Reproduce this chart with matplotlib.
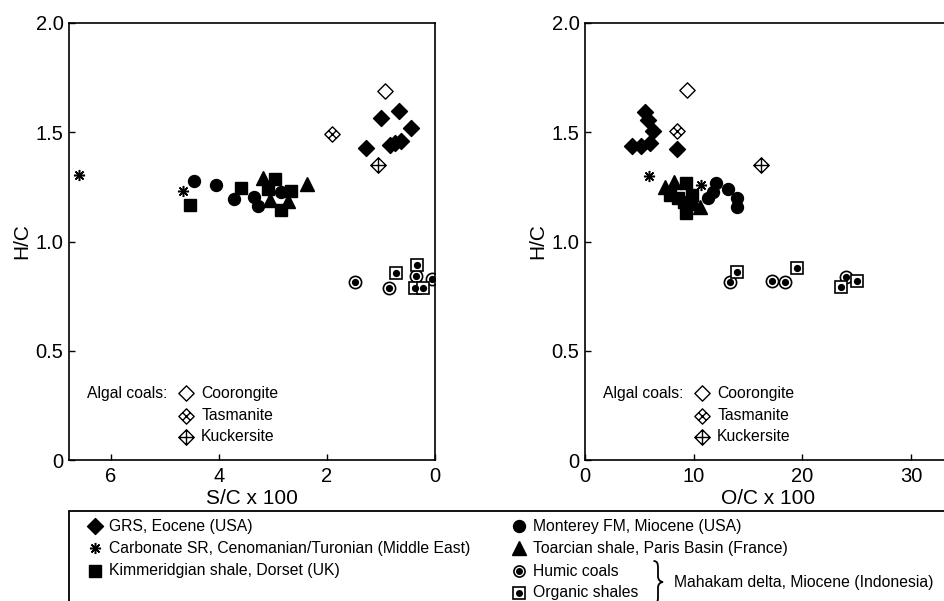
import numpy as np
import matplotlib
matplotlib.use("Agg")
import matplotlib.pyplot as plt
from matplotlib.path import Path
from matplotlib.patches import PathPatch, Rectangle
from matplotlib.lines import Line2D

plt.rcParams['font.family'] = ['Liberation Sans', 'DejaVu Sans']

# ---- data ----
# left panel: S/C x 100 vs H/C
grs_sc = [1.00, 0.67, 1.28, 0.83, 0.63, 0.45, 0.74]
grs_hc_l = [1.567, 1.599, 1.427, 1.442, 1.461, 1.518, 1.45]
carb_sc = [6.59, 4.66]
carb_hc_l = [1.306, 1.231]
kimm_sc = [4.54, 3.59, 2.97, 3.10, 2.86, 2.67]
kimm_hc_l = [1.168, 1.243, 1.285, 1.242, 1.144, 1.233]
mont_sc = [4.46, 4.06, 3.73, 3.35, 3.28, 2.86]
mont_hc_l = [1.275, 1.26, 1.193, 1.205, 1.162, 1.227]
toar_sc = [3.18, 3.05, 2.73, 2.38]
toar_hc_l = [1.289, 1.19, 1.185, 1.265]
humic_sc = [1.48, 0.85, 0.36, 0.06]
humic_hc_l = [0.816, 0.786, 0.844, 0.827]
shale_sc = [0.73, 0.33, 0.37, 0.22]
shale_hc_l = [0.857, 0.892, 0.789, 0.789]
algal_sc = [0.93, 1.91, 1.05]          # Coorongite, Tasmanite, Kuckersite
algal_hc_l = [1.689, 1.49, 1.349]

# right panel: O/C x 100 vs H/C
grs_oc = [4.29, 5.12, 5.98, 5.52, 5.83, 6.22, 8.49]
grs_hc_r = [1.439, 1.439, 1.449, 1.594, 1.556, 1.506, 1.423]
carb_oc = [5.89, 10.64]
carb_hc_r = [1.30, 1.257]
kimm_oc = [9.26, 7.8, 9.8, 9.1, 9.26, 8.6]
kimm_hc_r = [1.27, 1.215, 1.215, 1.18, 1.13, 1.20]
mont_oc = [11.35, 11.74, 12.05, 13.12, 14.01, 14.01]
mont_hc_r = [1.198, 1.228, 1.266, 1.24, 1.198, 1.159]
toar_oc = [7.36, 8.19, 10.0, 10.6]
toar_hc_r = [1.251, 1.274, 1.175, 1.16]
humic_oc = [13.34, 17.17, 18.43, 23.98]
humic_hc_r = [0.813, 0.821, 0.813, 0.836]
shale_oc = [13.95, 19.53, 23.52, 25.0]
shale_hc_r = [0.859, 0.88, 0.79, 0.819]
algal_oc = [9.41, 8.49, 16.16]
algal_hc_r = [1.693, 1.507, 1.35]

algal_names = ['Coorongite', 'Tasmanite', 'Kuckersite']
legend_left = ['GRS, Eocene (USA)',
               'Carbonate SR, Cenomanian/Turonian (Middle East)',
               'Kimmeridgian shale, Dorset (UK)']
legend_right = ['Monterey FM, Miocene (USA)',
                'Toarcian shale, Paris Basin (France)',
                'Humic coals', 'Organic shales']

# ---- custom diamond markers ----
M, L, C = Path.MOVETO, Path.LINETO, Path.CLOSEPOLY
dia_v = [(0, 1), (1, 0), (0, -1), (-1, 0), (0, 1)]
dia_c = [M, L, L, L, C]
diamond = Path(dia_v, dia_c)
tasman = Path(dia_v + [(0.5, 0.5), (-0.5, -0.5), (-0.5, 0.5), (0.5, -0.5)],
              dia_c + [M, L, M, L])
kucker = Path(dia_v + [(0, 1), (0, -1), (-1, 0), (1, 0)],
              dia_c + [M, L, M, L])
algal_markers = [diamond, tasman, kucker]
asterisk = (8, 2, 0)

W, H = 944, 601
fig = plt.figure(figsize=(W / 100, H / 100), dpi=100)
ax1 = fig.add_axes([69 / W, 1 - 460 / H, 366 / W, 437 / H])
ax2 = fig.add_axes([585 / W, 1 - 460 / H, 366 / W, 437 / H])


def draw_panel(ax, gx, gy, cx, cy, kx, ky, mx, my, tx, ty, hx, hy, sx, sy, axx, ayy):
    kw = dict(linestyle='none')
    ax.plot(gx, gy, marker=diamond, ms=11.5, color='black', **kw)
    ax.plot(kx, ky, marker='s', ms=8, color='black', **kw)
    ax.plot(tx, ty, marker='^', ms=9.5, color='black', **kw)
    ax.plot(mx, my, marker='o', ms=8.6, color='black', **kw)
    ax.plot(cx, cy, marker=asterisk, ms=8, mew=1.1, color='black', **kw)
    ax.plot(hx, hy, marker='o', ms=8.8, mfc='white', mec='black', mew=1.2, **kw)
    ax.plot(hx, hy, marker='o', ms=4.2, color='black', **kw)
    ax.plot(sx, sy, marker='s', ms=8.8, mfc='white', mec='black', mew=1.2, **kw)
    ax.plot(sx, sy, marker='o', ms=4.2, color='black', **kw)
    for xv, yv, mk in zip(axx, ayy, algal_markers):
        ax.plot([xv], [yv], marker=mk, ms=11, mfc='white', mec='black', mew=1.0, **kw)

    ax.set_ylim(0, 2.0)
    ax.set_yticks([0, 0.5, 1.0, 1.5, 2.0])
    ax.set_yticklabels(['0', '0.5', '1.0', '1.5', '2.0'])
    ax.set_ylabel('H/C', fontsize=15, labelpad=3)
    ax.tick_params(direction='in', length=4.5, width=1, labelsize=14.5,
                   top=False, right=False)
    ax.tick_params(axis='x', pad=5)
    ax.tick_params(axis='y', pad=4)
    for sp in ax.spines.values():
        sp.set_linewidth(1.2)

    # algal coals key inside the panel
    ax.text(0.049, 0.153, 'Algal coals:', transform=ax.transAxes,
            fontsize=11.3, va='center', ha='left')
    for i, (name, mk) in enumerate(zip(algal_names, algal_markers)):
        yy = [0.153, 0.101, 0.053][i]
        ax.plot([0.320], [yy], marker=mk, ms=11, mfc='white', mec='black',
                mew=1.0, transform=ax.transAxes, linestyle='none', clip_on=False)
        ax.text(0.361, yy, name, transform=ax.transAxes, fontsize=11.3,
                va='center', ha='left')


draw_panel(ax1, grs_sc, grs_hc_l, carb_sc, carb_hc_l, kimm_sc, kimm_hc_l,
           mont_sc, mont_hc_l, toar_sc, toar_hc_l, humic_sc, humic_hc_l,
           shale_sc, shale_hc_l, algal_sc, algal_hc_l)
ax1.set_xlim(6.78, 0)
ax1.set_xticks([6, 4, 2, 0])
ax1.set_xlabel('S/C x 100', fontsize=15, labelpad=2)

draw_panel(ax2, grs_oc, grs_hc_r, carb_oc, carb_hc_r, kimm_oc, kimm_hc_r,
           mont_oc, mont_hc_r, toar_oc, toar_hc_r, humic_oc, humic_hc_r,
           shale_oc, shale_hc_r, algal_oc, algal_hc_r)
ax2.set_xlim(0, 33.67)
ax2.set_xticks([0, 10, 20, 30])
ax2.set_xlabel('O/C x 100', fontsize=15, labelpad=2)

# ---- legend box below the panels ----
fig.add_artist(Rectangle((69 / W, -0.1), 1.0, (H - 510.7) / H + 0.1,
                         transform=fig.transFigure, fill=False, lw=1.3,
                         edgecolor='black'))


def fx(x):
    return x / W


def fy(y):
    return 1 - y / H


left_marks = [dict(marker=diamond, ms=11.5, color='black'),
              dict(marker=asterisk, ms=8, mew=1.1, color='black'),
              dict(marker='s', ms=8.5, color='black')]
for lab, yy, mk in zip(legend_left, [526, 548, 571], left_marks):
    fig.add_artist(Line2D([fx(95)], [fy(yy)], transform=fig.transFigure,
                          linestyle='none', **mk))
    fig.text(fx(109), fy(yy), lab, fontsize=11.3, va='center', ha='left')

right_marks = [[dict(marker='o', ms=8.6, color='black')],
               [dict(marker='^', ms=10, color='black')],
               [dict(marker='o', ms=8, mfc='white', mec='black', mew=1.2),
                dict(marker='o', ms=4, color='black')],
               [dict(marker='s', ms=8, mfc='white', mec='black', mew=1.2),
                dict(marker='o', ms=4, color='black')]]
for lab, yy, mks in zip(legend_right, [526, 548, 571, 593], right_marks):
    for mk in mks:
        fig.add_artist(Line2D([fx(519)], [fy(yy)], transform=fig.transFigure,
                              linestyle='none', **mk))
    fig.text(fx(533), fy(yy), lab, fontsize=11.3, va='center', ha='left')

# curly brace grouping the two Mahakam delta entries
C4 = Path.CURVE4
bx = [653.5, 657.5, 658, 658, 658, 658, 660, 663, 660, 658, 658, 658, 658, 657.5, 653.5]
by = [561, 561, 564, 568, 576, 580, 581.5, 582, 582.5, 584, 588, 597, 601, 603, 603]
bcodes = [M, C4, C4, C4, L, C4, C4, C4, C4, C4, C4, L, C4, C4, C4]
brace = Path([(fx(a), fy(b)) for a, b in zip(bx, by)], bcodes)
fig.add_artist(PathPatch(brace, transform=fig.transFigure, fill=False, lw=1.3,
                         edgecolor='black'))
fig.text(fx(674), fy(583), 'Mahakam delta, Miocene (Indonesia)', fontsize=11.3,
         va='center', ha='left')

fig.savefig('out.png', dpi=100)
